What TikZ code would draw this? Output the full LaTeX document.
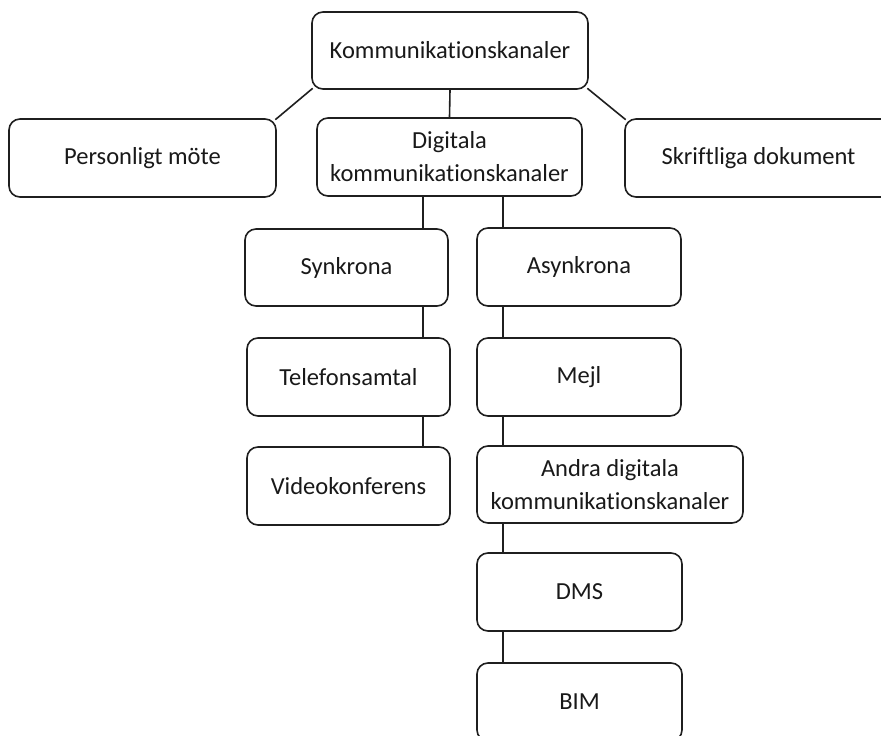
\documentclass[tikz,border=0pt]{standalone}
\usepackage{fontspec}
\setmainfont{Carlito}[Ligatures=NoCommon]
\begin{document}
\begin{tikzpicture}[x=1pt,y=-1pt,
  box/.style={draw=black!88, line width=1.6pt, rounded corners=11pt, fill=white,
    align=center, inner sep=0pt, minimum height=78pt,
    font=\fontsize{24.5}{33}\selectfont, text=black!90},
  link/.style={draw=black!88, line width=1.6pt}]
\useasboundingbox (0,0) rectangle (881,736);
\clip (0,0) rectangle (881,736);

% top level
\node[box, minimum width=276pt, minimum height=77pt] (top) at (450,50.5) {Kommunikationskanaler};
\node[box, minimum width=267pt] (pers) at (142.5,158) {Personligt möte};
\node[box, minimum width=265pt] (dig)  at (449.5,157) {Digitala\\kommunikationskanaler};
\node[box, minimum width=267pt] (skr)  at (758.5,158) {Skriftliga dokument};

% synchronous branch
\node[box, minimum width=203pt, minimum height=77pt] (syn) at (346.5,267.5) {Synkrona};
\node[box, minimum width=203pt] (tel) at (348.5,377) {Telefonsamtal};
\node[box, minimum width=203pt] (vid) at (348.5,486) {Videokonferens};

% asynchronous branch
\node[box, minimum width=204pt] (asy)  at (579,267)   {Asynkrona};
\node[box, minimum width=204pt] (mejl) at (579,377)   {Mejl};
\node[box, minimum width=266pt, minimum height=77pt] (andra) at (610,484.5) {Andra digitala\\kommunikationskanaler};
\node[box, minimum width=205pt] (dms)  at (579.5,592) {DMS};
\node[box, minimum width=205pt] (bim)  at (579.5,702) {BIM};

% vertical trunk positions
\coordinate (sx) at (423,0);
\coordinate (ax) at (503,0);

% connectors
\draw[link] (top.south) -- (dig.north);
\draw[link] ([shift={(1.5,-1.5)}]top.south west) -- ([shift={(-1.5,1.5)}]pers.north east);
\draw[link] ([shift={(-1.5,-1.5)}]top.south east) -- ([shift={(1.5,1.5)}]skr.north west);

\draw[link] (dig.south -| sx) -- (syn.north -| sx);
\draw[link] (syn.south -| sx) -- (tel.north -| sx);
\draw[link] (tel.south -| sx) -- (vid.north -| sx);

\draw[link] (dig.south -| ax) -- (asy.north -| ax);
\draw[link] (asy.south -| ax) -- (mejl.north -| ax);
\draw[link] (mejl.south -| ax) -- (andra.north -| ax);
\draw[link] (andra.south -| ax) -- (dms.north -| ax);
\draw[link] (dms.south -| ax) -- (bim.north -| ax);
\end{tikzpicture}
\end{document}
